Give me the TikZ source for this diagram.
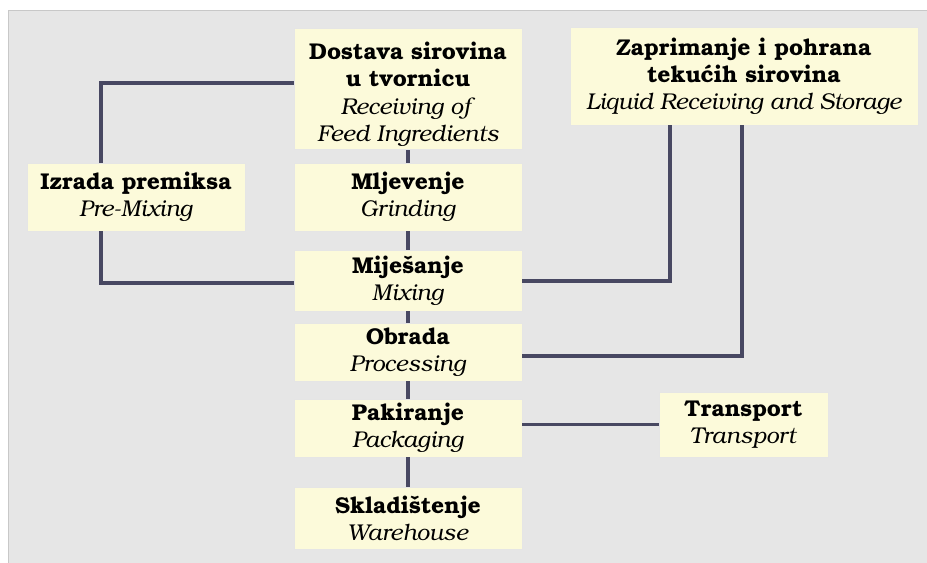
\documentclass[tikz,border=0pt]{standalone}
\usepackage{fontspec}
\setmainfont{texgyrebonum}[Extension=.otf,UprightFont=*-regular,BoldFont=*-bold,ItalicFont=*-italic,BoldItalicFont=*-bolditalic]
\definecolor{fpgray}{RGB}{230,230,230}
\definecolor{fpedge}{RGB}{200,200,200}
\definecolor{fpcream}{RGB}{252,250,218}
\definecolor{fpline}{RGB}{72,72,98}
\usetikzlibrary{positioning,calc}
\tikzset{
  stepbox/.style={fill=fpcream, draw=black!10, align=center, inner sep=2pt,
    font=\fontsize{13}{15.4}\selectfont, text=black},
  conn/.style={draw=fpline, line width=2.2pt}
}
\newcommand{\hr}[1]{\textbf{#1}}
\newcommand{\en}[1]{\textit{#1}}

\begin{document}
\begin{tikzpicture}[x=0.02cm, y=-0.02cm]
  \useasboundingbox (0,0) rectangle (927,563);
  %--- Background ---
  \fill[fpgray] (8,10) rectangle (927,563);
  \draw[fpedge, thin] (8,563) -- (8,10) -- (927,10);

  %--- Main line ---
  \node[stepbox, minimum width=4.56cm, minimum height=2.4cm] (dostava) at (408,89) {\rule{0pt}{16pt}\hr{Dostava sirovina}\\\hr{u tvornicu}\\\en{Receiving of}\\\en{Feed Ingredients}};
  \node[stepbox, minimum width=4.56cm, minimum height=1.36cm] (mljev) at (408,197) {\hr{Mljevenje}\\\en{Grinding}};
  \node[stepbox, minimum width=4.56cm, minimum height=1.22cm] (mijes) at (408,280.5) {\hr{Miješanje}\\\en{Mixing}};
  \node[stepbox, minimum width=4.56cm, minimum height=1.16cm] (obrada) at (408,352) {\hr{Obrada}\\\en{Processing}};
  \node[stepbox, minimum width=4.56cm, minimum height=1.16cm] (pakir) at (408,428) {\hr{Pakiranje}\\\en{Packaging}};
  \node[stepbox, minimum width=4.56cm, minimum height=1.24cm] (sklad) at (408,518) {\hr{Skladištenje}\\\en{Warehouse}};

  %--- Side steps ---
  \node[stepbox, minimum width=4.36cm, minimum height=1.36cm] (premix) at (136,197) {\hr{Izrada premiksa}\\\en{Pre-Mixing}};
  \node[stepbox, minimum width=6.96cm, minimum height=1.96cm] (liquid) at (744,76) {\hr{Zaprimanje i pohrana}\\\hr{tekućih sirovina}\\\en{Liquid Receiving and Storage}};
  \node[stepbox, minimum width=3.38cm, minimum height=1.3cm] (transport) at (743.5,424.5) {\hr{Transport}\\\en{Transport}};

  % Turning points
  \coordinate (ltop) at (101,83);
  \coordinate (lbot) at (101,283);
  \coordinate (rone) at (670,281);
  \coordinate (rtwo) at (742,356);

  %--- Connectors ---
  \draw[conn] (dostava) -- (mljev);
  \draw[conn] (mljev) -- (mijes);
  \draw[conn] (mijes) -- (obrada);
  \draw[conn] (obrada) -- (pakir);
  \draw[conn] (pakir) -- (sklad);
  \draw[conn] (dostava.west |- ltop) -- (ltop) -- (ltop |- premix.north);
  \draw[conn] (ltop |- premix.south) -- (lbot) -- (lbot -| mijes.west);
  \draw[conn] (liquid.south -| rone) -- (rone) -- (rone -| mijes.east);
  \draw[conn] (liquid.south -| rtwo) -- (rtwo) -- (rtwo -| obrada.east);
  \draw[conn] (transport.west -| pakir.east) -- (transport.west);
\end{tikzpicture}
\end{document}
